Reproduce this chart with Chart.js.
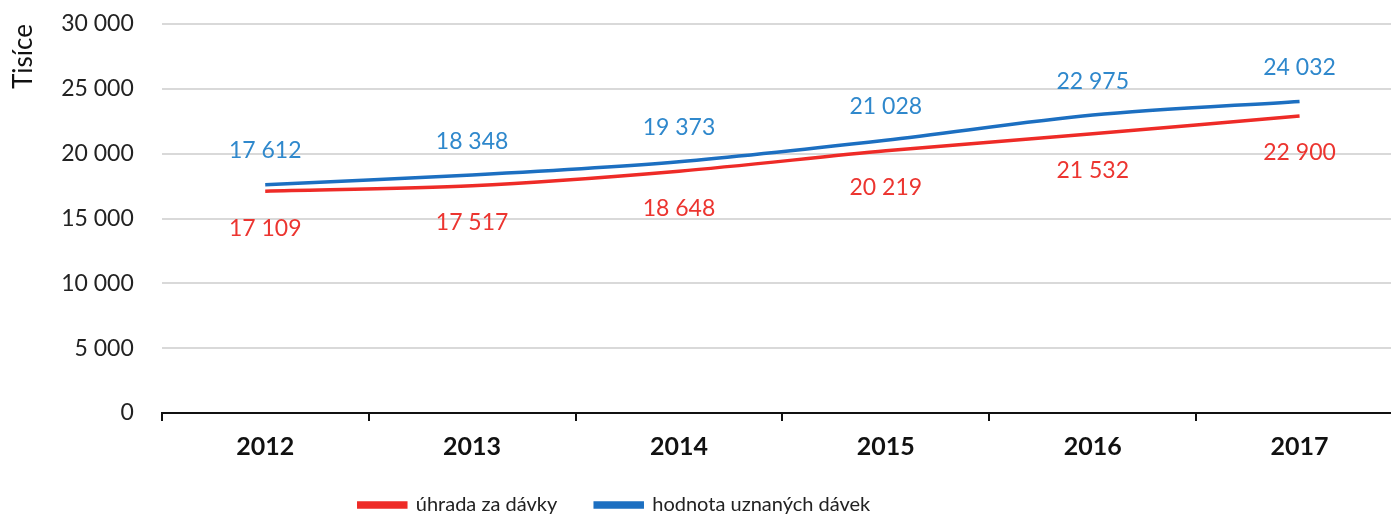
<!DOCTYPE html>
<html>
<head>
<meta charset="utf-8">
<script src="https://cdn.jsdelivr.net/npm/chart.js@4/dist/chart.umd.min.js"></script>
<style>
  html, body { margin: 0; padding: 0; background: #fff; overflow: hidden; }
  #wrap { width: 1403px; height: 525px; position: relative; }
</style>
</head>
<body>
<div id="wrap"><canvas id="chart"></canvas></div>
<script>
// values (thousands)
var years = ['2012', '2013', '2014', '2015', '2016', '2017'];
var uhrada = [17109, 17517, 18648, 20219, 21532, 22900];
var hodnota = [17612, 18348, 19373, 21028, 22975, 24032];
var yTicks = [0, 5000, 10000, 15000, 20000, 25000, 30000];

var RED = '#ee2b27';
var BLUE = '#1c6fc1';
var LEGEND_SHIFT = -89;

var fmt = (v) => String(v).replace(/\B(?=(\d{3})+(?!\d))/g, ' ');

Chart.defaults.font.family = 'Lato, "DejaVu Sans", sans-serif';

// value labels above/below each point
var valueLabels = {
	id: 'valueLabels',
	afterDatasetsDraw: (chart) => {
		const ctx = chart.ctx;
		ctx.save();
		ctx.font = '23px Lato';
		ctx.textAlign = 'center';
		ctx.textBaseline = 'middle';
		chart.data.datasets.forEach((ds, i) => {
			const meta = chart.getDatasetMeta(i);
			ctx.fillStyle = ds.labelColor;
			meta.data.forEach((pt, j) => {
				ctx.fillText(fmt(ds.data[j]), pt.x, pt.y + ds.labelOffset);
			});
		});
		ctx.restore();
	}
};

// legend in the original sits left of centre
var legendShift = {
	id: 'legendShift',
	afterLayout: (chart) => {
		chart.legend.left += LEGEND_SHIFT;
		chart.legend.right += LEGEND_SHIFT;
	}
};

new Chart(document.getElementById('chart'), {
	type: 'line',
	data: {
		labels: years,
		datasets: [
			{
				label: 'úhrada za dávky',
				data: uhrada,
				borderColor: RED,
				backgroundColor: RED,
				labelColor: '#ec3530',
				labelOffset: 37,
				borderWidth: 3.5,
				tension: 0.3,
				pointRadius: 0
			},
			{
				label: 'hodnota uznaných dávek',
				data: hodnota,
				borderColor: BLUE,
				backgroundColor: BLUE,
				labelColor: '#2f88cc',
				labelOffset: -34,
				borderWidth: 3.5,
				tension: 0.3,
				pointRadius: 0
			}
		]
	},
	plugins: [valueLabels, legendShift],
	options: {
		responsive: true,
		maintainAspectRatio: false,
		animation: false,
		layout: { padding: { top: 24, left: 4, right: 0, bottom: 0 } },
		plugins: {
			tooltip: { enabled: false },
			legend: {
				position: 'bottom',
				labels: {
					boxWidth: 47,
					boxHeight: 4,
					padding: 38,
					color: '#222',
					font: { size: 20 }
				}
			}
		},
		scales: {
			x: {
				offset: true,
				afterFit: (axis) => { axis.height = 44; },
				grid: {
					offset: true,
					drawOnChartArea: false,
					drawTicks: true,
					tickLength: 8,
					color: '#111',
					lineWidth: 2
				},
				border: { display: true, color: '#111', width: 2 },
				ticks: {
					padding: 11,
					color: '#111',
					font: { size: 25, weight: 'bold' }
				}
			},
			y: {
				min: 0,
				max: 30000,
				afterBuildTicks: (axis) => {
					axis.ticks = yTicks.map((v) => ({ value: v }));
				},
				afterFit: (axis) => {
					axis.paddingTop = 0;
					axis.paddingBottom = 0;
				},
				grid: { color: '#d9d9d9', lineWidth: 2, drawTicks: false },
				border: { display: false },
				ticks: {
					padding: 28,
					color: '#222',
					font: { size: 23 },
					callback: (v) => fmt(v)
				},
				title: {
					display: true,
					text: 'Tisíce',
					align: 'end',
					color: '#111',
					font: { size: 26 },
					padding: { top: 4, bottom: -6 }
				}
			}
		}
	}
});
</script>
</body>
</html>
